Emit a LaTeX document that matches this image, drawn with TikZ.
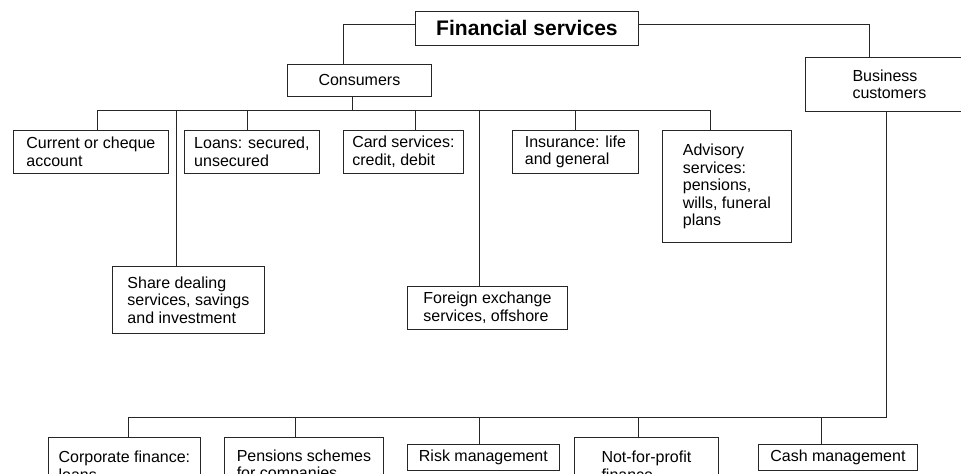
\documentclass[tikz,border=0pt]{standalone}
\usepackage{fontspec}
\setmainfont{Liberation Sans}
\tikzset{
  titlebox/.style={rectangle, draw=black!85, line width=0.7pt, inner sep=0pt, anchor=north west, font=\fontsize{15.8}{18}\selectfont\bfseries},
  groupbox/.style={rectangle, draw=black!85, line width=0.6pt, inner sep=0pt, anchor=north west, align=left, font=\fontsize{12}{13.1}\selectfont},
  leafbox/.style={groupbox},
  link/.style={draw=black!85, line width=0.6pt}
}
\begin{document}
\begin{tikzpicture}[x=0.75pt, y=-0.75pt]

  \useasboundingbox (0,0) rectangle (961,474);
  \clip (0,0) rectangle (961,474);

  \node (fin) [titlebox, minimum width=167.25pt, minimum height=25.5pt] at (415,11) {Financial services};
  \node (cons) [groupbox, minimum width=108pt, minimum height=24pt] at (287,64) {Consumers};
  \node (bus) [groupbox, minimum width=126pt, minimum height=40.5pt] at (805,57) {Business\\customers};

  % consumer products
  \node (cur) [leafbox, minimum width=116.25pt, minimum height=32.25pt] at (13,130) {Current or cheque\\account};
  \node (loan) [leafbox, minimum width=101.25pt, minimum height=32.25pt] at (184,130) {Loans: secured,\\unsecured};
  \node (card) [leafbox, minimum width=90pt, minimum height=32.25pt] at (343,130) {Card services:\\credit, debit};
  \node (ins) [leafbox, minimum width=94.5pt, minimum height=32.25pt] at (512,130) {Insurance: life\\and general};
  \node (adv) [leafbox, minimum width=96.75pt, minimum height=84pt] at (662,130) {Advisory\\services:\\pensions,\\wills, funeral\\plans};
  \node (share) [leafbox, minimum width=114pt, minimum height=50.25pt] at (112,266) {Share dealing\\services, savings\\and investment};
  \node (fx) [leafbox, minimum width=120pt, minimum height=32.25pt] at (407,286) {Foreign exchange\\services, offshore};

  % business products
  \node (corp) [leafbox, minimum width=114pt, minimum height=42.5pt] at (48,437) {Corporate finance:\\loans};
  \node (pens) [leafbox, minimum width=119.25pt, minimum height=42.5pt] at (224,437) {Pensions schemes\\for companies};
  \node (risk) [leafbox, minimum width=114pt, minimum height=19.5pt] at (407,444) {Risk management};
  \node (nfp) [leafbox, minimum width=108pt, minimum height=42.5pt] at (574,437) {Not-for-profit\\finance};
  \node (cash) [leafbox, minimum width=119.25pt, minimum height=19.5pt] at (758,444) {Cash management};

  \draw [link] ([yshift=3pt]fin.west) -| ([xshift=-12pt]cons.north);
  \draw [link] ([yshift=3pt]fin.east) -| ([xshift=-15pt]bus.north);

  % consumer branches
  \coordinate (cbar) at (352,110);
  \draw [link] (cons.south -| cbar) -- (cbar);
  \draw [link] ([xshift=4.9pt]cur.north) -- ([xshift=4.9pt]cur.north |- cbar) -- ([xshift=-12.4pt]adv.north |- cbar) -- ([xshift=-12.4pt]adv.north);
  \foreach \n/\dx in {loan/-3.4, card/9, ins/0, share/-9, fx/-6}
    \draw [link] ([xshift=\dx pt]\n.north) -- ([xshift=\dx pt]\n.north |- cbar);

  % business branches
  \coordinate (bbar) at (886,417);
  \draw [link] (bus.south -| bbar) -- (bbar) -- ([xshift=3pt]corp.north |- bbar) -- ([xshift=3pt]corp.north);
  \foreach \n/\dx in {pens/-6.4, risk/-3, nfp/-6, cash/-12.4}
    \draw [link] ([xshift=\dx pt]\n.north) -- ([xshift=\dx pt]\n.north |- bbar);

\end{tikzpicture}
\end{document}
